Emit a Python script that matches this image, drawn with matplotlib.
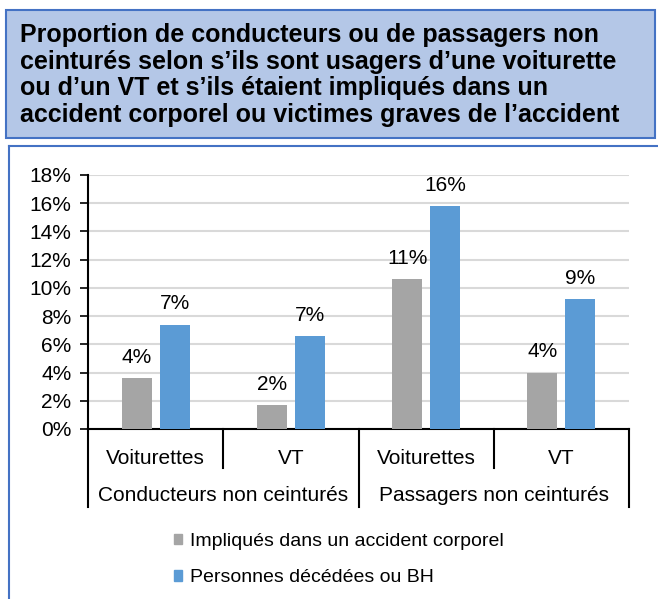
import numpy as np
import matplotlib.pyplot as plt
from matplotlib.patches import Rectangle, Patch
from matplotlib.lines import Line2D
import matplotlib.transforms as mtransforms

plt.rcParams.update({'font.family': ['Liberation Sans', 'DejaVu Sans']})

# data
categories = ["Voiturettes", "VT", "Voiturettes", "VT"]
groups = ["Conducteurs non ceinturés", "Passagers non ceinturés"]
impliques = [3.6, 1.7, 10.6, 4.0]
decedes = [7.4, 6.6, 15.8, 9.2]
series_names = ["Impliqués dans un accident corporel", "Personnes décédées ou BH"]
yticks = [0, 2, 4, 6, 8, 10, 12, 14, 16, 18]
title = ("Proportion de conducteurs ou de passagers non\n"
         "ceinturés selon s’ils sont usagers d’une voiturette\n"
         "ou d’un VT et s’ils étaient impliqués dans un\n"
         "accident corporel ou victimes graves de l’accident")

W, H = 658, 599
fig = plt.figure(figsize=(W / 100, H / 100), dpi=100)

# title box
fig.add_artist(Rectangle((6 / W, 1 - 138 / H), (655 - 6) / W, (138 - 10) / H,
                         transform=fig.transFigure, facecolor="#b4c7e7",
                         edgecolor="#4472c4", linewidth=1.5))
fig.text(20 / W, 1 - 75 / H, title, fontsize=18, fontweight="bold",
         ha="left", va="center", linespacing=1.14)

# chart frame (top and left edges)
fig.add_artist(Line2D([9 / W, 1.0], [1 - 146 / H, 1 - 146 / H],
                      transform=fig.transFigure, color="#4472c4", lw=1.5))
fig.add_artist(Line2D([9 / W, 9 / W], [0, 1 - 146 / H],
                      transform=fig.transFigure, color="#4472c4", lw=1.5))

ax = fig.add_axes([88 / W, 1 - 429 / H, (629 - 88) / W, (429 - 175) / H])
x = np.arange(len(categories))
w = 0.222
off = 0.14
b1 = ax.bar(x - off, impliques, w, color="#a5a5a5", label=series_names[0], zorder=3)
b2 = ax.bar(x + off, decedes, w, color="#5b9bd5", label=series_names[1], zorder=3)

for rect, v in list(zip(b1, impliques)) + list(zip(b2, decedes)):
    ax.annotate(f"{v:.0f}%", (rect.get_x() + rect.get_width() / 2, v),
                xytext=(0, 8), textcoords="offset points",
                ha="center", va="bottom", fontsize=15)

ax.set_xlim(-0.5, 3.5)
ax.set_ylim(0, 18)
ax.set_yticks(yticks)
ax.set_yticklabels([f"{t}%" for t in yticks], fontsize=15)
ax.set_xticks([])
ax.yaxis.grid(True, color="#d9d9d9", linewidth=1.5, zorder=0)
ax.set_axisbelow(True)
for s in ["top", "right"]:
    ax.spines[s].set_visible(False)
ax.spines["left"].set_linewidth(1.5)
ax.spines["bottom"].set_linewidth(1.5)
ax.tick_params(axis="y", length=6, width=1.2, pad=6)

# hierarchical category axis
trans = mtransforms.blended_transform_factory(ax.transData, ax.transAxes)
for xi in [-0.5, 1.5, 3.5]:
    ax.plot([xi, xi], [0, -0.307], transform=trans, color="black", lw=1.5, clip_on=False)
for xi in [0.5, 2.5]:
    ax.plot([xi, xi], [0, -0.1535], transform=trans, color="black", lw=1.5, clip_on=False)
for xi, c in zip(x, categories):
    ax.text(xi, -0.115, c, transform=trans, ha="center", va="center", fontsize=15)
for gi, g in enumerate(groups):
    ax.text(gi * 2 + 0.5, -0.26, g, transform=trans, ha="center", va="center", fontsize=15)

handles = [Patch(color="#a5a5a5"), Patch(color="#5b9bd5")]
fig.legend(handles, series_names, loc="upper left",
           bbox_to_anchor=(174 / W, 1 - 533 / H), frameon=False, fontsize=14,
           handlelength=0.42, handleheight=0.42, handletextpad=0.4,
           labelspacing=1.0, borderpad=0, borderaxespad=0)

fig.savefig("out.png", dpi=100)
